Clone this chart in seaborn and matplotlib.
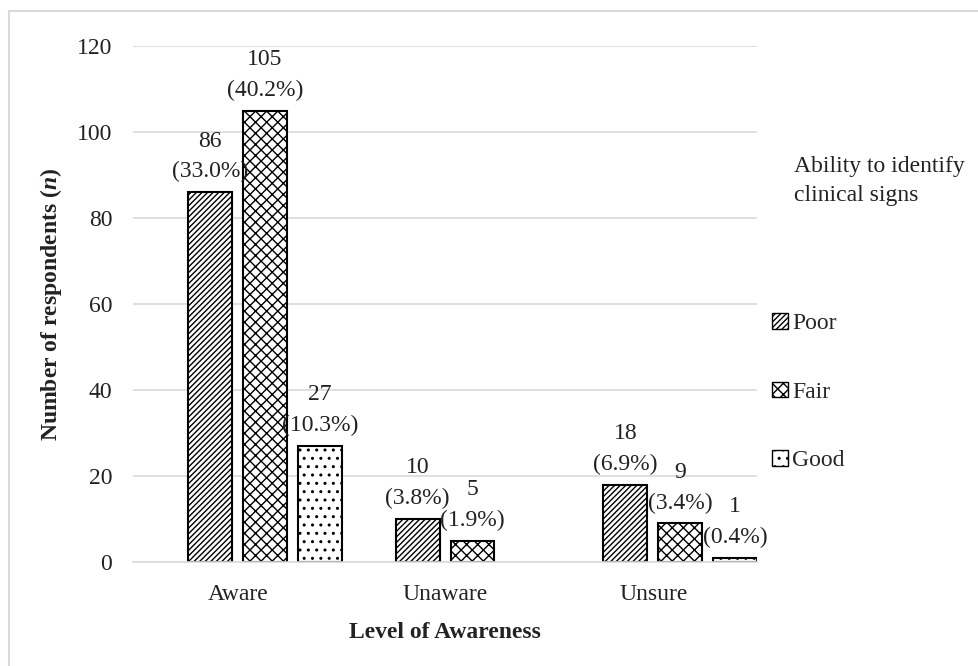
import matplotlib
matplotlib.use("Agg")
import matplotlib.pyplot as plt
import matplotlib.patches as mpatches
import matplotlib.lines as mlines
import seaborn as sns
import pandas as pd

# data
awareness = ["Aware", "Unaware", "Unsure"]
ability = ["Poor", "Fair", "Good"]
poor_n = [86, 10, 18]
fair_n = [105, 5, 9]
good_n = [27, None, 1]          # no "Good" bar for Unaware
poor_pct = ["33.0%", "3.8%", "6.9%"]
fair_pct = ["40.2%", "1.9%", "3.4%"]
good_pct = ["10.3%", None, "0.4%"]

rows = []
for lvl, vals, pcts in [("Poor", poor_n, poor_pct), ("Fair", fair_n, fair_pct), ("Good", good_n, good_pct)]:
    for cat, v, p in zip(awareness, vals, pcts):
        if v is not None:
            rows.append({"Level of Awareness": cat, "Ability": lvl, "n": v, "pct": p})
df = pd.DataFrame(rows)

sns.set_theme(style="white")
plt.rcParams["font.family"] = ["Liberation Serif", "DejaVu Serif"]
plt.rcParams["mathtext.fontset"] = "custom"
plt.rcParams["mathtext.bfit"] = "Liberation Serif:italic:bold"
plt.rcParams["hatch.linewidth"] = 1.0
plt.rcParams["hatch.color"] = "black"

FS = 17
TXT = "#222222"

fig = plt.figure(figsize=(9.79, 6.66), dpi=100)
ax = fig.add_axes([133 / 979, 1 - 562 / 666, (757 - 133) / 979, (562 - 46) / 666])

sns.barplot(data=df, x="Level of Awareness", y="n", hue="Ability", order=awareness,
            hue_order=ability, palette=["white"] * 3, edgecolor="black", linewidth=1.5,
            width=0.793, gap=0.2, legend=False, ax=ax)

hatches = {"Poor": "//////", "Fair": "xxx", "Good": ".."}
for lvl, cont in zip(ability, ax.containers):
    sub = df[df["Ability"] == lvl].set_index("Level of Awareness").reindex(awareness).dropna()
    for bar, (cat, r) in zip(cont, sub.iterrows()):
        bar.set_hatch(hatches[lvl])
        ax.annotate(f"{int(r['n'])}\n({r['pct']})", (bar.get_x() + bar.get_width() / 2, bar.get_height()),
                    xytext=(0, 7), textcoords="offset points", ha="center", va="bottom",
                    fontsize=FS, linespacing=1.6, color=TXT)

ax.set_ylim(0, 120)
ax.set_yticks(range(0, 121, 20))
ax.set_xlim(-0.635, 2.37)
# category labels sit a little left of the bar groups, as in the original
ax.set_xticks([i - 0.13 for i in range(len(awareness))])
ax.set_xticklabels(awareness)
ax.tick_params(axis="x", labelsize=FS, length=0, colors=TXT, pad=16)
ax.tick_params(axis="y", labelsize=FS, length=0, colors=TXT, pad=15)
ax.yaxis.grid(True, color="#d9d9d9", linewidth=1.2)
ax.set_axisbelow(True)
for s in ["top", "right", "left"]:
    ax.spines[s].set_visible(False)
ax.spines["bottom"].set_color("#d9d9d9")
ax.spines["bottom"].set_linewidth(1.2)

ax.set_xlabel("Level of Awareness", fontsize=FS, fontweight="bold", labelpad=12, color=TXT)
ax.set_ylabel(r"Number of respondents ($\mathbfit{n}$)", fontsize=FS, fontweight="bold",
              labelpad=9, color=TXT)

fig.text(794 / 979, 1 - 181 / 666, "Ability to identify\nclinical signs", fontsize=FS,
         va="center", ha="left", linespacing=1.55, color=TXT)
handles = [mpatches.Patch(facecolor="white", edgecolor="black", hatch=hatches[l], label=l) for l in ability]
fig.legend(handles=handles, loc="upper left", bbox_to_anchor=(751 / 979, 1 - 292 / 666),
           frameon=False, fontsize=FS, handlelength=0.65, handleheight=0.65,
           handletextpad=0.2, labelspacing=2.0)

# light outline of the chart area
fig.add_artist(mlines.Line2D([9 / 979, 9 / 979], [0, 1 - 11 / 666], color="#d9d9d9", lw=1.5))
fig.add_artist(mlines.Line2D([9 / 979, 1], [1 - 11 / 666, 1 - 11 / 666], color="#d9d9d9", lw=1.5))

fig.savefig("out.png", dpi=100)
